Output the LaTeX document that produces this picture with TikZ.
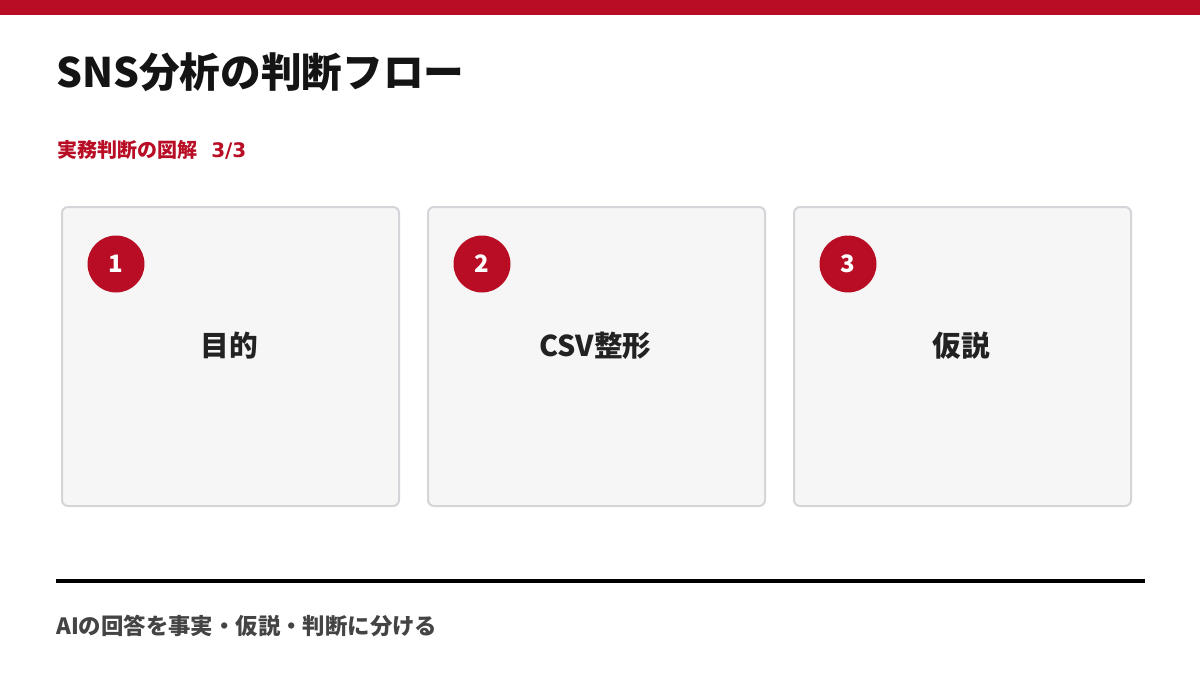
\documentclass[tikz,border=0pt]{standalone}
\usepackage{fontspec}
\setmainfont{Noto Sans CJK JP}
\newfontfamily\digitfont{DejaVu Sans}
\definecolor{brand}{HTML}{B80D24}
\definecolor{cardfill}{HTML}{F6F6F6}
\definecolor{cardline}{HTML}{D4D5D9}
\definecolor{ink}{HTML}{141414}
\definecolor{label}{HTML}{222222}
\definecolor{foot}{HTML}{444444}
\begin{document}
\begin{tikzpicture}[x=0.75pt,y=-0.75pt,
  card/.style={draw=cardline,line width=1.5pt,fill=cardfill,rounded corners=4.5pt,minimum width=337*0.75pt,minimum height=299*0.75pt,inner sep=0pt,anchor=north west},
  badge/.style={circle,fill=brand,minimum size=57*0.75pt,inner sep=0pt,text=white,font=\bfseries\fontsize{18pt}{18pt}\selectfont},
  cardlabel/.style={text=label,font=\bfseries\fontsize{21.5pt}{21.5pt}\selectfont,inner sep=0pt}]
\useasboundingbox (0,0) rectangle (1200,675);
\fill[white] (0,0) rectangle (1200,675);
\fill[brand] (0,0) rectangle (1200,15);
\node[anchor=mid west,inner sep=0pt,text=ink,font=\bfseries\fontsize{30.5pt}{31pt}\selectfont] (title) at (56,84) {SNS分析の判断フロー};
\node[anchor=mid west,inner sep=0pt,text=brand,font=\bfseries\fontsize{15pt}{15pt}\selectfont] (sub) at (57,154) {実務判断の図解\hspace{0.7em}{\digitfont\bfseries 3/3}};
\node[card] (c1) at (61,206) {};
\node[card] (c2) at (427,206) {};
\node[card] (c3) at (793,206) {};
\node[badge] (b1) at (116,264) {1};
\node[badge] (b2) at (482,264) {2};
\node[badge] (b3) at (848,264) {3};
\node[cardlabel] (l1) at (229.5,346) {目的};
\node[cardlabel] (l2) at (595.5,346) {CSV整形};
\node[cardlabel] (l3) at (961.5,346) {仮説};
\coordinate (r1) at (56,581);
\coordinate (r2) at (1145,581);
\draw[label,line width=3pt] (r1) -- (r2);
\node[anchor=mid west,inner sep=0pt,text=foot,font=\bfseries\fontsize{16.8pt}{17pt}\selectfont] (footer) at (56,631) {AIの回答を事実・仮説・判断に分ける};
\end{tikzpicture}
\end{document}
